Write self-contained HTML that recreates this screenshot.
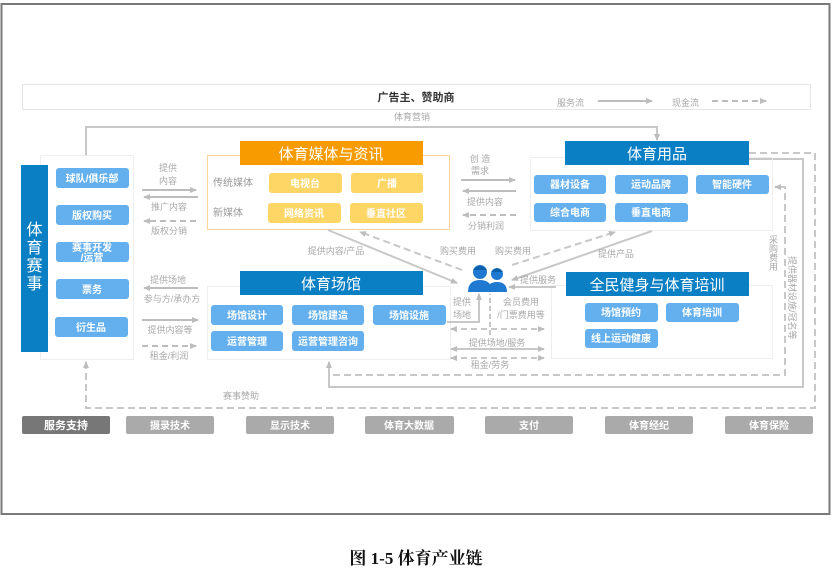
<!DOCTYPE html>
<html><head><meta charset="utf-8"><style>
html,body{margin:0;padding:0;background:#fff;}
svg{display:block;font-family:"Liberation Sans","Noto Sans CJK SC",sans-serif;}
.t{font-size:9px;fill:#a8a8a8;}
.b{font-size:10px;fill:#fff;font-weight:bold;text-anchor:middle;}
.h{font-size:15px;fill:#fff;text-anchor:middle;}
</style></head><body>
<svg width="832" height="582" viewBox="0 0 832 582">
<defs>
<marker id="a" markerWidth="8" markerHeight="8" refX="6" refY="4" orient="auto" markerUnits="userSpaceOnUse"><path d="M0,1 L7,4 L0,7 z" fill="#bdbdbd"/></marker>
<marker id="s" markerWidth="8" markerHeight="8" refX="2" refY="4" orient="auto" markerUnits="userSpaceOnUse"><path d="M8,1 L1,4 L8,7 z" fill="#bdbdbd"/></marker>
</defs>
<rect x="1.5" y="4" width="828" height="510" fill="none" stroke="#7a7a7a" stroke-width="2"/>
<rect x="22.5" y="84.5" width="788" height="25" fill="#fff" stroke="#e6e6e6"/>
<text x="416" y="101" font-size="11" font-weight="bold" fill="#333" text-anchor="middle">广告主、赞助商</text>
<text x="557" y="106" class="t">服务流</text>
<line x1="598" y1="101" x2="652" y2="101" stroke="#bdbdbd" stroke-width="2" marker-end="url(#a)"/>
<text x="672" y="106" class="t">现金流</text>
<line x1="712" y1="101" x2="766" y2="101" stroke="#bdbdbd" stroke-width="2" stroke-dasharray="6,4" marker-end="url(#a)"/>
<text x="394" y="120" class="t">体育营销</text>
<polyline points="86,155 86,127 657,127 657,140" fill="none" stroke="#c8c8c8" stroke-width="2" marker-end="url(#a)"/>
<polyline points="749,153 815,153 815,408 86,408 86,362" fill="none" stroke="#c8c8c8" stroke-width="2" stroke-dasharray="7,4" marker-end="url(#a)"/>
<polyline points="749,159 803,159 803,387 329,387 329,362" fill="none" stroke="#c8c8c8" stroke-width="2" marker-end="url(#a)"/>
<polyline points="333,375 785,375 785,187 775,187" fill="none" stroke="#c8c8c8" stroke-width="2" stroke-dasharray="7,4" marker-end="url(#a)"/>
<text x="241" y="399" class="t" text-anchor="middle">赛事赞助</text>
<text class="t" font-size="8.5"><tspan x="769" y="243">采</tspan><tspan x="769" y="252">购</tspan><tspan x="769" y="261">费</tspan><tspan x="769" y="270">用</tspan></text>
<text class="t" font-size="8" transform="translate(789,256) rotate(90)">提供器材设施/冠名等</text>

<rect x="40.5" y="155.5" width="93" height="204" fill="#fff" stroke="#eee"/>
<rect x="21" y="165" width="27" height="187" fill="#0a7fc4"/>
<text x="34.5" y="235" font-size="16" fill="#fff" text-anchor="middle"><tspan x="34.5" dy="0">体</tspan><tspan x="34.5" dy="18">育</tspan><tspan x="34.5" dy="18">赛</tspan><tspan x="34.5" dy="18">事</tspan></text>
<g fill="#64b0ee">
<rect x="56" y="168" width="73" height="20" rx="3"/><rect x="56" y="205" width="73" height="20" rx="3"/><rect x="56" y="242" width="73" height="20" rx="3"/><rect x="56" y="279" width="73" height="20" rx="3"/><rect x="55" y="317" width="73" height="20" rx="3"/>
</g>
<text class="b" x="92" y="182">球队/俱乐部</text>
<text class="b" x="92" y="219">版权购买</text>
<text class="b" x="92" y="251" font-size="9.5">赛事开发</text><text class="b" x="92" y="261" font-size="9.5">/运营</text>
<text class="b" x="92" y="293">票务</text>
<text class="b" x="91" y="331">衍生品</text>
<text x="168" y="171" class="t" text-anchor="middle">提供</text><text x="168" y="184" class="t" text-anchor="middle">内容</text>
<line x1="142" y1="190" x2="196" y2="190" stroke="#bdbdbd" stroke-width="2" marker-end="url(#a)"/>
<line x1="198" y1="197" x2="144" y2="197" stroke="#bdbdbd" stroke-width="2" marker-end="url(#a)"/>
<text x="169" y="210" class="t" text-anchor="middle">推广内容</text>
<line x1="196" y1="221" x2="144" y2="221" stroke="#bdbdbd" stroke-width="2" stroke-dasharray="6,4" marker-end="url(#a)"/>
<text x="169" y="234" class="t" text-anchor="middle">版权分销</text>
<text x="168" y="283" class="t" text-anchor="middle">提供场地</text>
<line x1="198" y1="288" x2="144" y2="288" stroke="#bdbdbd" stroke-width="2" marker-end="url(#a)"/>
<text x="172" y="302" class="t" text-anchor="middle">参与方/承办方</text>
<line x1="142" y1="320" x2="198" y2="320" stroke="#bdbdbd" stroke-width="2" marker-end="url(#a)"/>
<text x="170" y="333" class="t" text-anchor="middle">提供内容等</text>
<line x1="142" y1="346" x2="196" y2="346" stroke="#bdbdbd" stroke-width="2" stroke-dasharray="6,4" marker-end="url(#a)"/>
<text x="169" y="359" class="t" text-anchor="middle">租金/利润</text>

<rect x="207.5" y="155.5" width="242" height="74" fill="#fff" stroke="#fbd49a"/>
<rect x="240" y="141" width="183" height="24" fill="#f79b00"/>
<text class="h" x="331" y="159">体育媒体与资讯</text>
<text x="213" y="186" font-size="10" fill="#999">传统媒体</text>
<text x="213" y="216" font-size="10" fill="#999">新媒体</text>
<g fill="#fdd665"><rect x="269" y="173" width="73" height="20" rx="3"/><rect x="351" y="173" width="72" height="20" rx="3"/><rect x="268" y="203" width="73" height="20" rx="3"/><rect x="350" y="203" width="73" height="20" rx="3"/></g>
<text class="b" x="305" y="187">电视台</text><text class="b" x="387" y="187">广播</text>
<text class="b" x="304" y="217">网络资讯</text><text class="b" x="386" y="217">垂直社区</text>

<text x="480" y="162" class="t" text-anchor="middle">创 造</text><text x="480" y="174" class="t" text-anchor="middle">需求</text>
<line x1="461" y1="180" x2="515" y2="180" stroke="#bdbdbd" stroke-width="2" marker-end="url(#a)"/>
<line x1="516" y1="191" x2="463" y2="191" stroke="#bdbdbd" stroke-width="2" marker-end="url(#a)"/>
<text x="485" y="205" class="t" text-anchor="middle">提供内容</text>
<line x1="516" y1="215" x2="463" y2="215" stroke="#bdbdbd" stroke-width="2" stroke-dasharray="6,4" marker-end="url(#a)"/>
<text x="486" y="229" class="t" text-anchor="middle">分销利润</text>

<rect x="530.5" y="157.5" width="242" height="73" fill="none" stroke="#eee"/>
<rect x="565" y="141" width="184" height="24" fill="#0a7fc4"/>
<text class="h" x="657" y="159">体育用品</text>
<g fill="#64b0ee"><rect x="534" y="175" width="72" height="19" rx="3"/><rect x="615" y="175" width="73" height="19" rx="3"/><rect x="696" y="175" width="73" height="19" rx="3"/><rect x="534" y="203" width="72" height="19" rx="3"/><rect x="615" y="203" width="73" height="19" rx="3"/></g>
<text class="b" x="570" y="188">器材设备</text><text class="b" x="651" y="188">运动品牌</text><text class="b" x="732" y="188">智能硬件</text>
<text class="b" x="570" y="216">综合电商</text><text class="b" x="651" y="216">垂直电商</text>

<line x1="328" y1="230" x2="457" y2="283" stroke="#c8c8c8" stroke-width="2" marker-end="url(#a)"/>
<line x1="462" y1="270" x2="360" y2="232" stroke="#c8c8c8" stroke-width="2" stroke-dasharray="7,4" marker-end="url(#a)"/>
<line x1="512" y1="265" x2="615" y2="232" stroke="#c8c8c8" stroke-width="2" stroke-dasharray="7,4" marker-end="url(#a)"/>
<line x1="652" y1="231" x2="512" y2="280" stroke="#c8c8c8" stroke-width="2" marker-end="url(#a)"/>
<text x="336" y="254" class="t" text-anchor="middle">提供内容/产品</text>
<text x="458" y="254" class="t" text-anchor="middle">购买费用</text>
<text x="513" y="254" class="t" text-anchor="middle">购买费用</text>
<text x="616" y="257" class="t" text-anchor="middle">提供产品</text>
<g fill="#1f79d0">
<circle cx="480" cy="272" r="7"/><path d="M468,292 Q468,280 480,280 Q492,280 492,292 z"/>
<circle cx="497" cy="274" r="6"/><path d="M487,292 Q487,282 497,282 Q507,282 507,292 z"/>
</g>
<path d="M473,270 Q480,262 487,270" fill="#0b5fa8"/><path d="M491,272 Q497,265 503,272" fill="#0b5fa8"/>

<rect x="207.5" y="286.5" width="243" height="73" fill="none" stroke="#eee"/>
<rect x="240" y="271" width="183" height="24" fill="#0a7fc4"/>
<text class="h" x="331" y="289">体育场馆</text>
<g fill="#64b0ee"><rect x="211" y="305" width="72" height="20" rx="3"/><rect x="292" y="305" width="72" height="20" rx="3"/><rect x="373" y="305" width="73" height="20" rx="3"/><rect x="211" y="331" width="72" height="20" rx="3"/><rect x="292" y="331" width="72" height="20" rx="3"/></g>
<text class="b" x="247" y="319">场馆设计</text><text class="b" x="328" y="319">场馆建造</text><text class="b" x="409" y="319">场馆设施</text>
<text class="b" x="247" y="345">运营管理</text><text class="b" x="328" y="345">运营管理咨询</text>

<rect x="551.5" y="285.5" width="221" height="73" fill="none" stroke="#eee"/>
<rect x="566" y="272" width="183" height="24" fill="#0a7fc4"/>
<text class="h" x="657" y="290">全民健身与体育培训</text>
<g fill="#64b0ee"><rect x="585" y="303" width="73" height="19" rx="3"/><rect x="666" y="303" width="73" height="19" rx="3"/><rect x="585" y="329" width="73" height="19" rx="3"/></g>
<text class="b" x="621" y="316">场馆预约</text><text class="b" x="702" y="316">体育培训</text><text class="b" x="621" y="342">线上运动健康</text>

<text x="538" y="283" class="t" text-anchor="middle">提供服务</text>
<line x1="556" y1="287" x2="509" y2="287" stroke="#c8c8c8" stroke-width="2" marker-end="url(#a)"/>
<polyline points="447,322 479,322 479,294" fill="none" stroke="#c8c8c8" stroke-width="2" marker-end="url(#a)"/>
<text x="462" y="305" class="t" text-anchor="middle">提供</text><text x="462" y="318" class="t" text-anchor="middle">场地</text>
<line x1="490" y1="335" x2="490" y2="294" stroke="#c8c8c8" stroke-width="2" stroke-dasharray="5,3"/>
<text x="521" y="305" class="t" text-anchor="middle">会员费用</text><text x="521" y="318" class="t" text-anchor="middle">/门票费用等</text>
<line x1="451" y1="329" x2="544" y2="329" stroke="#c8c8c8" stroke-width="2" stroke-dasharray="6,4" marker-start="url(#s)" marker-end="url(#a)"/>
<text x="497" y="346" class="t" text-anchor="middle">提供场地/服务</text>
<line x1="451" y1="349" x2="544" y2="349" stroke="#c8c8c8" stroke-width="2" marker-start="url(#s)" marker-end="url(#a)"/>
<line x1="451" y1="358" x2="544" y2="358" stroke="#c8c8c8" stroke-width="2" stroke-dasharray="6,4" marker-start="url(#s)" marker-end="url(#a)"/>
<text x="490" y="368" class="t" text-anchor="middle">租金/劳务</text>

<rect x="22" y="416" width="88" height="18" rx="2" fill="#777"/>
<text x="66" y="429" font-size="11" font-weight="bold" fill="#fff" text-anchor="middle">服务支持</text>
<g fill="#aaa"><rect x="126" y="416" width="88" height="18" rx="2"/><rect x="246" y="416" width="88" height="18" rx="2"/><rect x="365" y="416" width="89" height="18" rx="2"/><rect x="485" y="416" width="88" height="18" rx="2"/><rect x="605" y="416" width="88" height="18" rx="2"/><rect x="725" y="416" width="88" height="18" rx="2"/></g>
<g font-size="10" fill="#fff" text-anchor="middle" font-weight="bold">
<text x="170" y="429">摄录技术</text><text x="290" y="429">显示技术</text><text x="409" y="429">体育大数据</text><text x="529" y="429">支付</text><text x="649" y="429">体育经纪</text><text x="769" y="429">体育保险</text>
</g>
<text x="416" y="564" font-size="17" font-weight="bold" fill="#111" text-anchor="middle" font-family="'Liberation Serif','Noto Serif CJK SC',serif">图 1-5 体育产业链</text>
</svg>
</body></html>
